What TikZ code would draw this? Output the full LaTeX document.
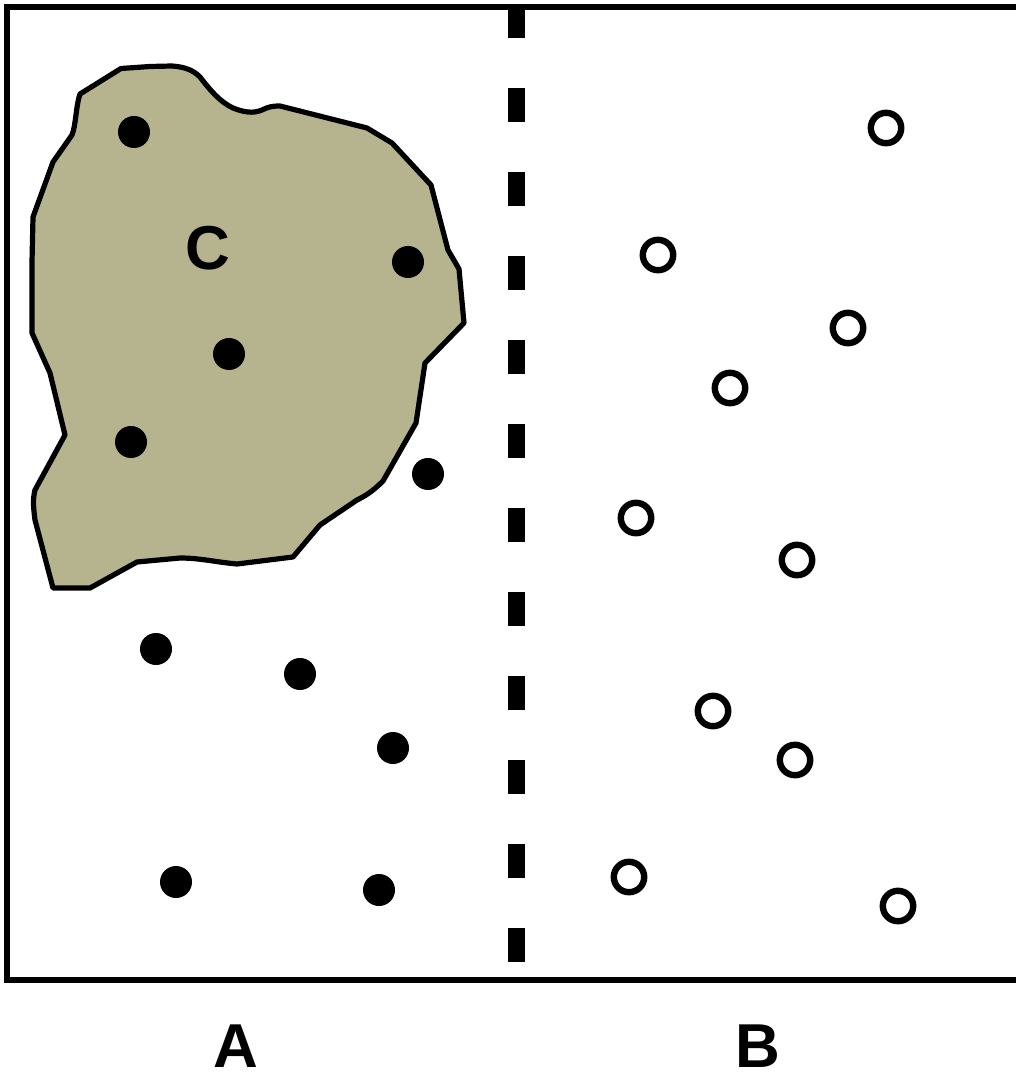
\documentclass[tikz,border=0pt]{standalone}
\usepackage{fontspec}
\setmainfont{Liberation Sans}
\definecolor{blobfill}{RGB}{181,180,143}
\begin{document}
\begin{tikzpicture}[x=0.5pt,y=-0.5pt,
  dotA/.style={circle,fill=black,inner sep=0pt,minimum size=16pt},
  ringB/.style={circle,draw=black,line width=3.2pt,fill=white,inner sep=0pt,minimum size=15.2pt},
  lbl/.style={font=\fontsize{31}{36}\selectfont\bfseries,inner sep=0pt}]
\useasboundingbox[fill=white] (0,0) rectangle (1016,1080);
% frame
\draw[line width=3pt,line join=miter] (1016,7) -- (7,7) -- (7,980) -- (1016,980);
% divider
\coordinate (dtop) at (516,4);
\coordinate (dbot) at (516,964);
\draw[line width=8.5pt,dash pattern=on 17pt off 25pt,line cap=butt] (dtop) -- (dbot);
% region C
\draw[line width=2.6pt,line join=round,fill=blobfill]
  (121,68.5) -- (150,66.5) -- (172,66) .. controls (185,67) and (193,70) .. (200,77)
  .. controls (210,90) and (220,102) .. (233,108) .. controls (243,112) and (253,114) .. (262,110)
  .. controls (268,107) and (272,106) .. (280,106)
  -- (367,128) -- (392,143) -- (431,185) -- (443,231) -- (448,250) -- (459,269)
  -- (464,323) -- (425,363) -- (416,423) -- (383,481) .. controls (372,492) and (365,496) .. (357,500)
  -- (320,525) -- (293,557) -- (237,564) .. controls (215,562) and (200,558) .. (180,558)
  -- (137,562) -- (90,588) -- (53,588) -- (35,520) .. controls (33,505) and (33,498) .. (35,490)
  -- (65,435) -- (50,373) -- (32,333) -- (32,262) -- (33,217) -- (53,162) -- (72,135)
  .. controls (76,125) and (76,105) .. (80,94) -- cycle;
\node[lbl] (C) at (208,248) {C};
% filled dots
\node[dotA] (a1) at (134,132) {};
\node[dotA] (a2) at (408,262) {};
\node[dotA] (a3) at (229,354) {};
\node[dotA] (a4) at (131,442) {};
\node[dotA] (a5) at (428,474) {};
\node[dotA] (a6) at (156,649) {};
\node[dotA] (a7) at (300,674) {};
\node[dotA] (a8) at (393,748) {};
\node[dotA] (a9) at (176,882) {};
\node[dotA] (a10) at (379,890) {};
% open circles
\node[ringB] (b1) at (886,128) {};
\node[ringB] (b2) at (658,255) {};
\node[ringB] (b3) at (848,328) {};
\node[ringB] (b4) at (730,388) {};
\node[ringB] (b5) at (636,518) {};
\node[ringB] (b6) at (797,560) {};
\node[ringB] (b7) at (713,711) {};
\node[ringB] (b8) at (795,760) {};
\node[ringB] (b9) at (629,877) {};
\node[ringB] (b10) at (898,906) {};
% labels
\node[lbl,anchor=base] (A) at (236,1067) {A};
\node[lbl,anchor=base] (B) at (758,1067) {B};
\end{tikzpicture}
\end{document}
